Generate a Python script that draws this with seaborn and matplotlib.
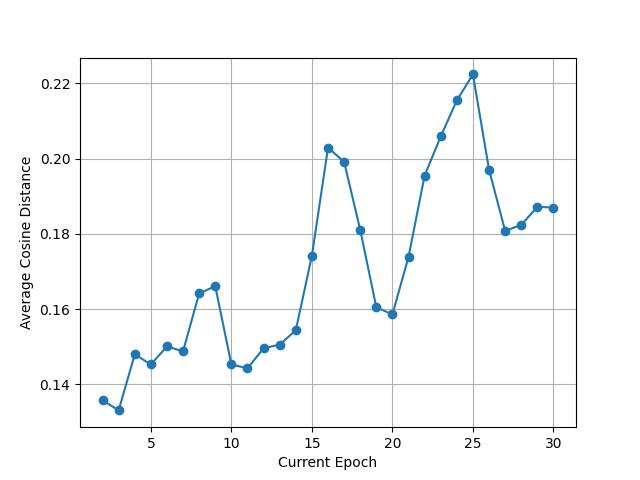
import matplotlib
matplotlib.use("Agg")
import matplotlib.pyplot as plt
import seaborn as sns
import pandas as pd

epochs = list(range(2, 31))
distances = [0.1358, 0.1331, 0.1480, 0.1453, 0.1501, 0.1488, 0.1642, 0.1661,
             0.1453, 0.1443, 0.1496, 0.1506, 0.1544, 0.1742, 0.2029, 0.1992,
             0.1811, 0.1605, 0.1586, 0.1739, 0.1955, 0.2059, 0.2155, 0.2224,
             0.1971, 0.1808, 0.1824, 0.1872, 0.1870]

df = pd.DataFrame({"epoch": epochs, "dist": distances})

fig, ax = plt.subplots(figsize=(6.4, 4.8), dpi=100)
sns.lineplot(data=df, x="epoch", y="dist", marker="o", markersize=7,
             markeredgewidth=0, color="#1f77b4", ax=ax)
ax.grid(True)
ax.set_xlabel("Current Epoch")
ax.set_ylabel("Average Cosine Distance")
fig.savefig("out.png")
